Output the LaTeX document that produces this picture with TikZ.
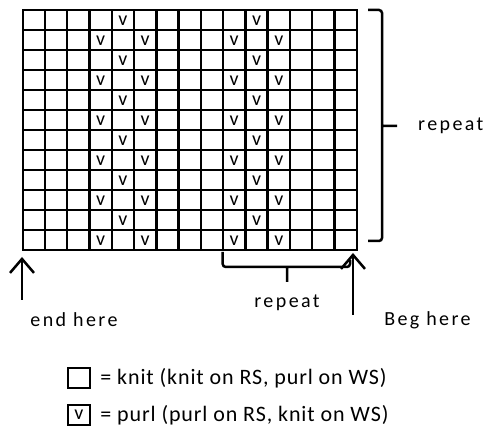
\documentclass[tikz,border=0pt]{standalone}
\usepackage{fontspec}
\setmainfont{Carlito}
\newfontfamily\spacedfont[LetterSpace=12]{Carlito}
\newfontfamily\legendfont[LetterSpace=4]{Carlito}
\usetikzlibrary{arrows.meta, positioning}
\tikzstyle{gridline} = [line width=2.4pt, line cap=rect, draw=black]
\tikzstyle{purlmark} = [inner sep=0pt, font=\fontsize{20}{20}\selectfont]
\tikzstyle{chartnote} = [inner sep=0pt, font=\spacedfont\fontsize{20}{20}\selectfont]
\tikzstyle{legendnote} = [inner sep=0pt, anchor=west, font=\legendfont\fontsize{22}{22}\selectfont]
\tikzstyle{keybox} = [rectangle, draw=black, line width=2.4pt, minimum width=22pt, minimum height=20pt, inner sep=0pt, font=\fontsize{20}{20}\selectfont]
\tikzstyle{bracket} = [line width=2.5pt, rounded corners=3pt]
\tikzstyle{arrow} = [line width=2.5pt, -{Straight Barb[length=14pt, width=24pt]}]

\begin{document}
\begin{tikzpicture}[x=1pt, y=-1pt, node distance=20pt]
 \useasboundingbox (0,0) rectangle (499,427);

 % chart grid, 15 stitches by 12 rows
 \foreach \c in {0,...,15}
  \draw[gridline] ({22.7+\c*22.27},10) -- ({22.7+\c*22.27},250);
 \foreach \r in {0,...,12}
  \draw[gridline] (22.7,{10+\r*20}) -- (356.7,{10+\r*20});

 % purl stitches
 \foreach \r in {1,3,...,11}
  \foreach \c in {5,11}
   \node[purlmark] at ({22.7+(\c-0.5)*22.27},{10+(\r-0.5)*20+1}) {v};
 \foreach \r in {2,4,...,12}
  \foreach \c in {4,6,10,12}
   \node[purlmark] at ({22.7+(\c-0.5)*22.27},{10+(\r-0.5)*20+1}) {v};

 % row repeat
 \coordinate (rowtip) at (397,126);
 \draw[bracket] (368,10) -- (382,10) -- (382,241) -- (368,241) (382,126) -- (rowtip);
 \node (rowrepeat) [chartnote, anchor=west, right=21pt of rowtip] {repeat};

 % stitch repeat
 \coordinate (sttip) at (287,282);
 \draw[bracket] (222.7,252) -- (222.7,267) -- (350,267) -- (350,260) (287,267) -- (sttip);
 \node (strepeat) [chartnote, below=13pt of sttip] {repeat};

 % start and end
 \coordinate (endtail) at (22,300);
 \coordinate (endtip) at (22,257);
 \coordinate (begtail) at (353,315);
 \coordinate (begtip) at (353,253);
 \draw[arrow] (endtail) -- (endtip);
 \draw[arrow] (begtail) -- (begtip);
 \node (endhere) [chartnote] at (74,320) {end here};
 \node (beghere) [chartnote] at (427.5,320) {Beg here};

 % key
 \node (knitbox) [keybox] at (79,378) {};
 \node (knitnote) [legendnote, right=9pt of knitbox] {= knit (knit on RS, purl on WS)};
 \node (purlbox) [keybox] at (79,415) {v};
 \node (purlnote) [legendnote, right=9pt of purlbox] {= purl (purl on RS, knit on WS)};
\end{tikzpicture}
\end{document}
